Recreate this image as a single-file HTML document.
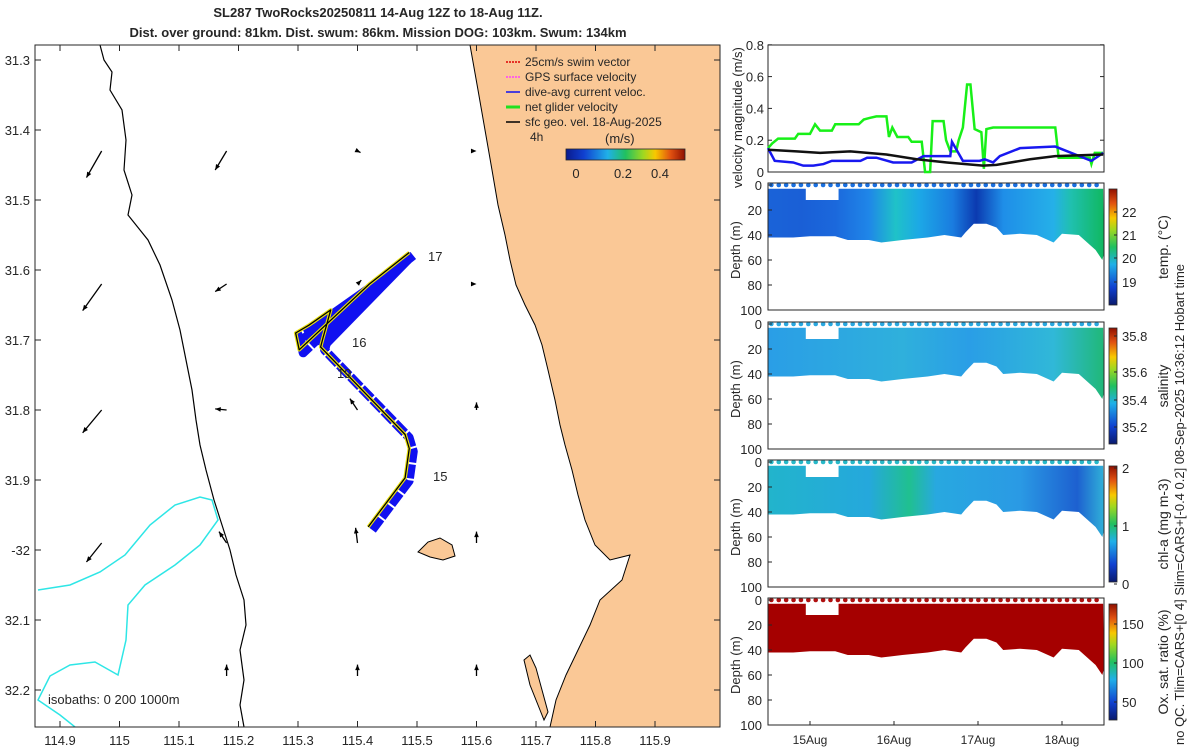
<!DOCTYPE html>
<html><head><meta charset="utf-8"><style>
body{margin:0;background:#fff;font-family:"Liberation Sans",sans-serif;}
svg text{font-family:"Liberation Sans",sans-serif;fill:#262626;}
</style></head><body>
<svg width="1200" height="750" xmlns="http://www.w3.org/2000/svg">
<defs>
<linearGradient id="gTemp" x1="0" x2="1" y1="0" y2="0">
<stop offset="0" stop-color="#1a63d8"/><stop offset="0.1" stop-color="#1a5fd6"/><stop offset="0.2" stop-color="#1b68dc"/><stop offset="0.3" stop-color="#1f86e8"/><stop offset="0.38" stop-color="#1fc2c8"/><stop offset="0.45" stop-color="#1ca8e6"/><stop offset="0.55" stop-color="#1a7ce0"/><stop offset="0.62" stop-color="#0b3ab0"/><stop offset="0.7" stop-color="#1f8ee8"/><stop offset="0.85" stop-color="#25b0e8"/><stop offset="0.9" stop-color="#20c0b0"/><stop offset="1" stop-color="#10b860"/></linearGradient>
<linearGradient id="gSal" x1="0" x2="1" y1="0" y2="0">
<stop offset="0" stop-color="#2a9ee6"/><stop offset="0.4" stop-color="#2fb0dc"/><stop offset="0.6" stop-color="#2a9ee6"/><stop offset="0.85" stop-color="#30b8d8"/><stop offset="1" stop-color="#20b878"/></linearGradient>
<linearGradient id="gChl" x1="0" x2="1" y1="0" y2="0">
<stop offset="0" stop-color="#22b4cc"/><stop offset="0.3" stop-color="#25a8dc"/><stop offset="0.42" stop-color="#20c090"/><stop offset="0.5" stop-color="#28a8e0"/><stop offset="0.75" stop-color="#2a9ae4"/><stop offset="0.92" stop-color="#1d60d0"/><stop offset="1" stop-color="#30b0d8"/></linearGradient>
<linearGradient id="gJet" x1="0" x2="0" y1="1" y2="0">
<stop offset="0" stop-color="#0a1a6e"/><stop offset="0.15" stop-color="#1040d0"/><stop offset="0.35" stop-color="#20b0e8"/><stop offset="0.5" stop-color="#20c060"/><stop offset="0.65" stop-color="#a0d820"/><stop offset="0.75" stop-color="#f8c800"/><stop offset="0.88" stop-color="#e05010"/><stop offset="1" stop-color="#901000"/></linearGradient>
<linearGradient id="gJetH" x1="0" x2="1" y1="0" y2="0">
<stop offset="0" stop-color="#0a1a8e"/><stop offset="0.15" stop-color="#1040d0"/><stop offset="0.35" stop-color="#20b0e8"/><stop offset="0.5" stop-color="#20c060"/><stop offset="0.65" stop-color="#a0d820"/><stop offset="0.75" stop-color="#f8c800"/><stop offset="0.88" stop-color="#e05010"/><stop offset="1" stop-color="#901000"/></linearGradient>
<clipPath id="mapClip"><rect x="35" y="45" width="685" height="682"/></clipPath>
</defs>

<text x="378" y="17" text-anchor="middle" font-size="13" font-weight="bold">SL287 TwoRocks20250811 14-Aug 12Z to 18-Aug 11Z.</text>
<text x="378" y="37" text-anchor="middle" font-size="13" font-weight="bold">Dist. over ground: 81km. Dist. swum: 86km. Mission DOG: 103km. Swum: 134km</text>

<g id="map"></g>
<g id="right"></g>

<text transform="translate(1184,745) rotate(-90)" font-size="13">no QC. Tlim=CARS+[0 4] Slim=CARS+[-0.4 0.2] 08-Sep-2025 10:36:12 Hobart time</text>
</svg>
<script>
const NS='http://www.w3.org/2000/svg';
function mk(parent,tag,attrs,txt){const e=document.createElementNS(NS,tag);for(const k in attrs)e.setAttribute(k,attrs[k]);if(txt!==undefined)e.textContent=txt;parent.appendChild(e);return e;}

// ---------------- MAP ----------------
const lonTicks=[114.9,115,115.1,115.2,115.3,115.4,115.5,115.6,115.7,115.8,115.9];
const lonTickLabels=['114.9','115','115.1','115.2','115.3','115.4','115.5','115.6','115.7','115.8','115.9'];
const latTicks=[31.3,31.4,31.5,31.6,31.7,31.8,31.9,32.0,32.1,32.2];
const latTickLabels=['31.3','31.4','31.5','31.6','31.7','31.8','31.9','-32','32.1','32.2'];
const trackLon=[115.418,115.48,115.487,115.48,115.338,115.342,115.355,115.318,115.296,115.302,115.42,115.487];
const trackLat=[31.967,31.897,31.855,31.835,31.71,31.697,31.657,31.679,31.69,31.714,31.62,31.575];
const arrowLon=[114.97,115.18,115.4,115.6,114.97,115.18,115.4,115.6,114.97,115.18,115.4,115.6,114.97,115.18,115.4,115.6,115.18,115.4,115.6];
const arrowLat=[31.43,31.43,31.43,31.43,31.62,31.62,31.62,31.62,31.8,31.8,31.8,31.8,31.99,31.99,31.99,31.99,32.18,32.18,32.18];
const arrowU=[-0.04,-0.03,0.008,0,-0.05,-0.03,0.01,0,-0.05,-0.03,-0.02,0,-0.04,-0.02,-0.005,0,0,0,0];
const arrowV=[-0.07,-0.05,-0.004,0,-0.07,-0.02,0.01,0,-0.06,0.003,0.03,0.02,-0.05,0.03,0.04,0.03,0.03,0.03,0.03];
const lx=lon=>60+(lon-114.9)*595;
const ly=lat=>60+(lat-31.3)*700;
const map=document.getElementById('map');
const mg=mk(map,'g',{'clip-path':'url(#mapClip)'});
let land=mk(mg,'path',{d:'M470,45 L478,90 L485,130 L492,170 L498,205 L505,235 L510,260 L516,285 L525,305 L535,325 L542,345 L548,370 L555,400 L560,425 L565,445 L572,470 L578,495 L585,520 L595,545 L610,560 L630,555 L622,580 L600,600 L590,625 L578,650 L566,675 L556,700 L550,727 L720,727 L720,45 Z',fill:'#fac896',stroke:'#000','stroke-width':'1'});

let isl=mk(mg,'path',{d:'M418,552 L428,542 L440,538 L452,545 L455,556 L443,560 L430,557 Z',fill:'#fac896',stroke:'#000','stroke-width':'1'});

let gi=mk(mg,'path',{d:'M524,660 L530,655 L536,668 L542,690 L548,712 L544,720 L538,705 L530,685 Z',fill:'#fac896',stroke:'#000','stroke-width':'1'});

let iso200=mk(mg,'path',{d:'M100,45 L104,60 L112,72 L110,90 L122,110 L126,140 L124,170 L132,195 L128,215 L148,240 L160,265 L172,300 L180,330 L186,360 L192,390 L196,420 L200,445 L206,470 L214,500 L222,525 L230,550 L236,575 L244,600 L246,625 L240,650 L244,680 L240,705 L244,727',fill:'none',stroke:'#000','stroke-width':'1.2'});

let iso1000=mk(mg,'path',{d:'M38,590 L70,585 L100,572 L125,555 L150,525 L175,505 L200,497 L212,500 L218,520 L200,545 L175,565 L145,585 L128,605 L126,640 L118,675 L95,662 L70,665 L50,676 L38,700 L60,715 L75,727',fill:'none',stroke:'#2ee6e6','stroke-width':'1.5'});

for(let i=0;i<arrowLon.length;i++){
  const x=lx(arrowLon[i]),y=ly(arrowLat[i]);
  const x2=x+arrowU[i]*380,y2=y-arrowV[i]*380;
  const a=mk(mg,'line',{x1:x,y1:y,x2:x2,y2:y2,stroke:'#000','stroke-width':'1.3'});
  
  
  const ang=Math.atan2(y2-y,x2-x),h=6;
  const hd=mk(mg,'polygon',{points:`${x2},${y2} ${x2-h*Math.cos(ang-0.4)},${y2-h*Math.sin(ang-0.4)} ${x2-h*Math.cos(ang+0.4)},${y2-h*Math.sin(ang+0.4)}`,fill:'#000'});
  
  
}
const pts=trackLon.map((l,i)=>lx(l)+','+ly(trackLat[i])).join(' ');
const tb=mk(mg,'polyline',{points:trackLon.map((l,i)=>(lx(l)+4)+','+(ly(trackLat[i])+3)).join(' '),fill:'none',stroke:'#1010f0','stroke-width':'9','stroke-linejoin':'round','stroke-dasharray':'14 2'});

const fan=mk(mg,'polygon',{points:`${lx(115.487)},${ly(31.578)} ${lx(115.49)},${ly(31.59)} ${lx(115.35)},${ly(31.712)} ${lx(115.30)},${ly(31.697)} ${lx(115.35)},${ly(31.66)}`,fill:'#1010f0'});

const ty=mk(mg,'polyline',{points:pts,fill:'none',stroke:'#e8e010','stroke-width':'3.5','stroke-linejoin':'round'});

const tk=mk(mg,'polyline',{points:pts,fill:'none',stroke:'#000','stroke-width':'1.3','stroke-linejoin':'round'});

const dayLbl=[['17',428,261],['16',352,347],['19',337,378],['15',433,481]];
dayLbl.forEach(d=>{const t=mk(map,'text',{x:d[1],y:d[2],'font-size':'13'},d[0]);});
mk(map,'rect',{x:35,y:45,width:685,height:682,fill:'none',stroke:'#262626','stroke-width':'1'});
lonTicks.forEach((v,i)=>{const x=lx(v);mk(map,'line',{x1:x,y1:727,x2:x,y2:721,stroke:'#262626'});mk(map,'line',{x1:x,y1:45,x2:x,y2:51,stroke:'#262626'});
 const t=mk(map,'text',{x:x,y:745,'text-anchor':'middle','font-size':'13'},lonTickLabels[i]);});
latTicks.forEach((v,i)=>{const y=ly(v);mk(map,'line',{x1:35,y1:y,x2:41,y2:y,stroke:'#262626'});mk(map,'line',{x1:720,y1:y,x2:714,y2:y,stroke:'#262626'});
 const t=mk(map,'text',{x:30,y:y+5,'text-anchor':'end','font-size':'13'},latTickLabels[i]);});
let isoT=mk(map,'text',{x:48,y:704,'font-size':'13'},'isobaths: 0    200   1000m');
const legCols=['#e00000','#ff40ff','#1010f0','#20e020','#000000'];
const legTxt=['25cm/s swim vector','GPS surface velocity','dive-avg current veloc.','net glider velocity','sfc geo. vel. 18-Aug-2025'];
legTxt.forEach((s,i)=>{const y=62+i*15;
 mk(map,'line',{x1:506,y1:y,x2:520,y2:y,stroke:legCols[i],'stroke-width':i==3?3:1.5,'stroke-dasharray':i<2?'2 1':''});
 const t=mk(map,'text',{x:525,y:y+4,'font-size':'12'},s);});
mk(map,'text',{x:530,y:141,'font-size':'12'},'4h');
mk(map,'text',{x:605,y:143,'font-size':'13'},'(m/s)');
mk(map,'rect',{x:566,y:149,width:119,height:11,fill:'url(#gJetH)',stroke:'#262626','stroke-width':'0.8'});
[['0',576],['0.2',623],['0.4',660]].forEach(c=>mk(map,'text',{x:c[1],y:178,'text-anchor':'middle','font-size':'13'},c[0]));

// ---------------- VELOCITY ----------------
const greenT=[0,0.05,0.12,0.32,0.36,0.5,0.56,0.62,0.76,0.8,1.08,1.14,1.21,1.29,1.41,1.44,1.48,1.54,1.67,1.71,1.83,1.87,1.93,1.96,2.09,2.12,2.17,2.24,2.27,2.32,2.37,2.41,2.46,2.54,2.57,2.6,2.68,3.42,3.46,3.83,3.85,3.89,3.99];
const greenV=[0.15,0.18,0.21,0.21,0.24,0.24,0.30,0.26,0.26,0.30,0.30,0.33,0.34,0.35,0.35,0.22,0.28,0.22,0.22,0.19,0.19,0,0,0.32,0.32,0.2,0.13,0.13,0.2,0.28,0.55,0.55,0.27,0.25,0.02,0.27,0.28,0.28,0.09,0.09,0.05,0.12,0.12];
const blueT=[0,0.08,0.3,0.42,0.54,0.66,0.76,1.1,1.18,1.29,1.49,1.71,1.85,2.17,2.19,2.32,2.52,2.58,2.68,2.76,3.0,3.42,3.85,3.99];
const blueV=[0.15,0.07,0.06,0.04,0.04,0.05,0.07,0.07,0.09,0.09,0.06,0.06,0.1,0.1,0.19,0.07,0.07,0.08,0.06,0.1,0.15,0.16,0.07,0.12];
const blackT=[0,0.34,0.62,0.98,1.41,1.77,2.13,2.56,2.72,3.12,3.42,3.99];
const blackV=[0.14,0.13,0.12,0.13,0.11,0.08,0.06,0.04,0.045,0.08,0.1,0.11];
const velTicks=[0,0.2,0.4,0.6,0.8];
const dayTicks=[0.5,1.5,2.5,3.5];
const dayTickLabels=['15Aug','16Aug','17Aug','18Aug'];
const X0=768,X1=1104;
const tx=d=>X0+d*84;
const vy=v=>172-v*159;
const R=document.getElementById('right');
mk(R,'rect',{x:X0,y:45,width:X1-X0,height:127,fill:'#fff',stroke:'#262626'});
velTicks.forEach(v=>{const y=vy(v);mk(R,'line',{x1:X0,y1:y,x2:X0+4,y2:y,stroke:'#262626'});mk(R,'line',{x1:X1,y1:y,x2:X1-4,y2:y,stroke:'#262626'});
 const t=mk(R,'text',{x:X0-4,y:y+5,'text-anchor':'end','font-size':'13'},v===0?'0':v.toFixed(1));});
function series(T,V,col,name){const l=mk(R,'polyline',{points:T.map((t,i)=>tx(t)+','+vy(V[i])).join(' '),fill:'none',stroke:col,'stroke-width':'2.5'});
 
 }
series(greenT,greenV,'#18f018','net-glider-speed-line');
series(blueT,blueV,'#1818f0','dive-avg-current-line');
series(blackT,blackV,'#111','geo-velocity-line');
let vl=mk(R,'text',{transform:'translate(742,188) rotate(-90)','font-size':'13'},'velocity magnitude (m/s)');

// ---------------- DEPTH PANELS ----------------
const profT=[0,0.3,0.5,0.8,0.95,1.2,1.35,1.6,1.9,2.1,2.3,2.35,2.45,2.6,2.72,2.8,3.0,3.2,3.4,3.5,3.7,3.8,3.9,3.98,4.0];
const profD=[42,42,41,41,44,44,46,44,42,40,42,38,31,31,34,40,39,40,46,39,40,46,52,60,55];
const depthTicks=[0,20,40,60,80,100];
const panels=[
 {top:183,fill:'url(#gTemp)',name:'temperature',label:'temp. (°C)',cb:[['22',212],['21',235],['20',258],['19',282]],dot:'#1a70e0'},
 {top:322,fill:'url(#gSal)',name:'salinity',label:'salinity',cb:[['35.8',336],['35.6',372],['35.4',400],['35.2',427]],dot:'#2aa8e0'},
 {top:460,fill:'url(#gChl)',name:'chlorophyll',label:'chl-a (mg m-3)',cb:[['2',468],['1',526],['0',584]],dot:'#28b8c8'},
 {top:598,fill:'#a50000',name:'oxygen',label:'Ox. sat. ratio (%)',cb:[['150',624],['100',663],['50',702]],dot:'#b01010'}];
panels.forEach((p,pi)=>{
 const dy=d=>p.top+2+d*1.25;
 const g=mk(R,'g',{});
 
 
 mk(g,'rect',{x:X0,y:p.top,width:X1-X0,height:127,fill:'#fff'});
 let d='M'+tx(0)+','+dy(3)+' L'+tx(0.45)+','+dy(3)+' L'+tx(0.45)+','+dy(12)+' L'+tx(0.84)+','+dy(12)+' L'+tx(0.84)+','+dy(3)+' L'+tx(3.99)+','+dy(3);
 for(let i=profT.length-1;i>=0;i--) d+=' L'+tx(profT[i])+','+dy(profD[i]);
 const a=mk(g,'path',{d:d+' Z',fill:p.fill});
 
 
 for(let k=0;k<45;k++){mk(g,'circle',{cx:tx(0.04+k*0.088),cy:dy(0),r:2.3,fill:p.dot});}
 mk(g,'rect',{x:X0,y:p.top,width:X1-X0,height:127,fill:'none',stroke:'#262626'});
 depthTicks.forEach(v=>{const y=dy(v);mk(g,'line',{x1:X0,y1:y,x2:X0+4,y2:y,stroke:'#262626'});
  const t=mk(g,'text',{x:X0-6,y:y+5,'text-anchor':'end','font-size':'13'},String(v));});
 const yl=mk(g,'text',{transform:`translate(740,${p.top+96}) rotate(-90)`,'font-size':'13'},'Depth (m)');
 mk(g,'rect',{x:1109,y:p.top+6,width:8,height:116,fill:'url(#gJet)',stroke:'#262626','stroke-width':'0.8'});
 p.cb.forEach(c=>{mk(g,'line',{x1:1114,y1:c[1],x2:1117,y2:c[1],stroke:'#262626'});const t=mk(g,'text',{x:1122,y:c[1]+5,'font-size':'13'},c[0]);});
 const cl=mk(g,'text',{transform:`translate(1168,${p.top+64}) rotate(-90)`,'text-anchor':'middle','font-size':'14'},p.label);
});
dayTicks.forEach((d,i)=>{const x=tx(d);mk(R,'line',{x1:x,y1:725,x2:x,y2:721,stroke:'#262626'});
 const t=mk(R,'text',{x:x,y:744,'text-anchor':'middle','font-size':'12'},dayTickLabels[i]);});
</script>
</body></html>
